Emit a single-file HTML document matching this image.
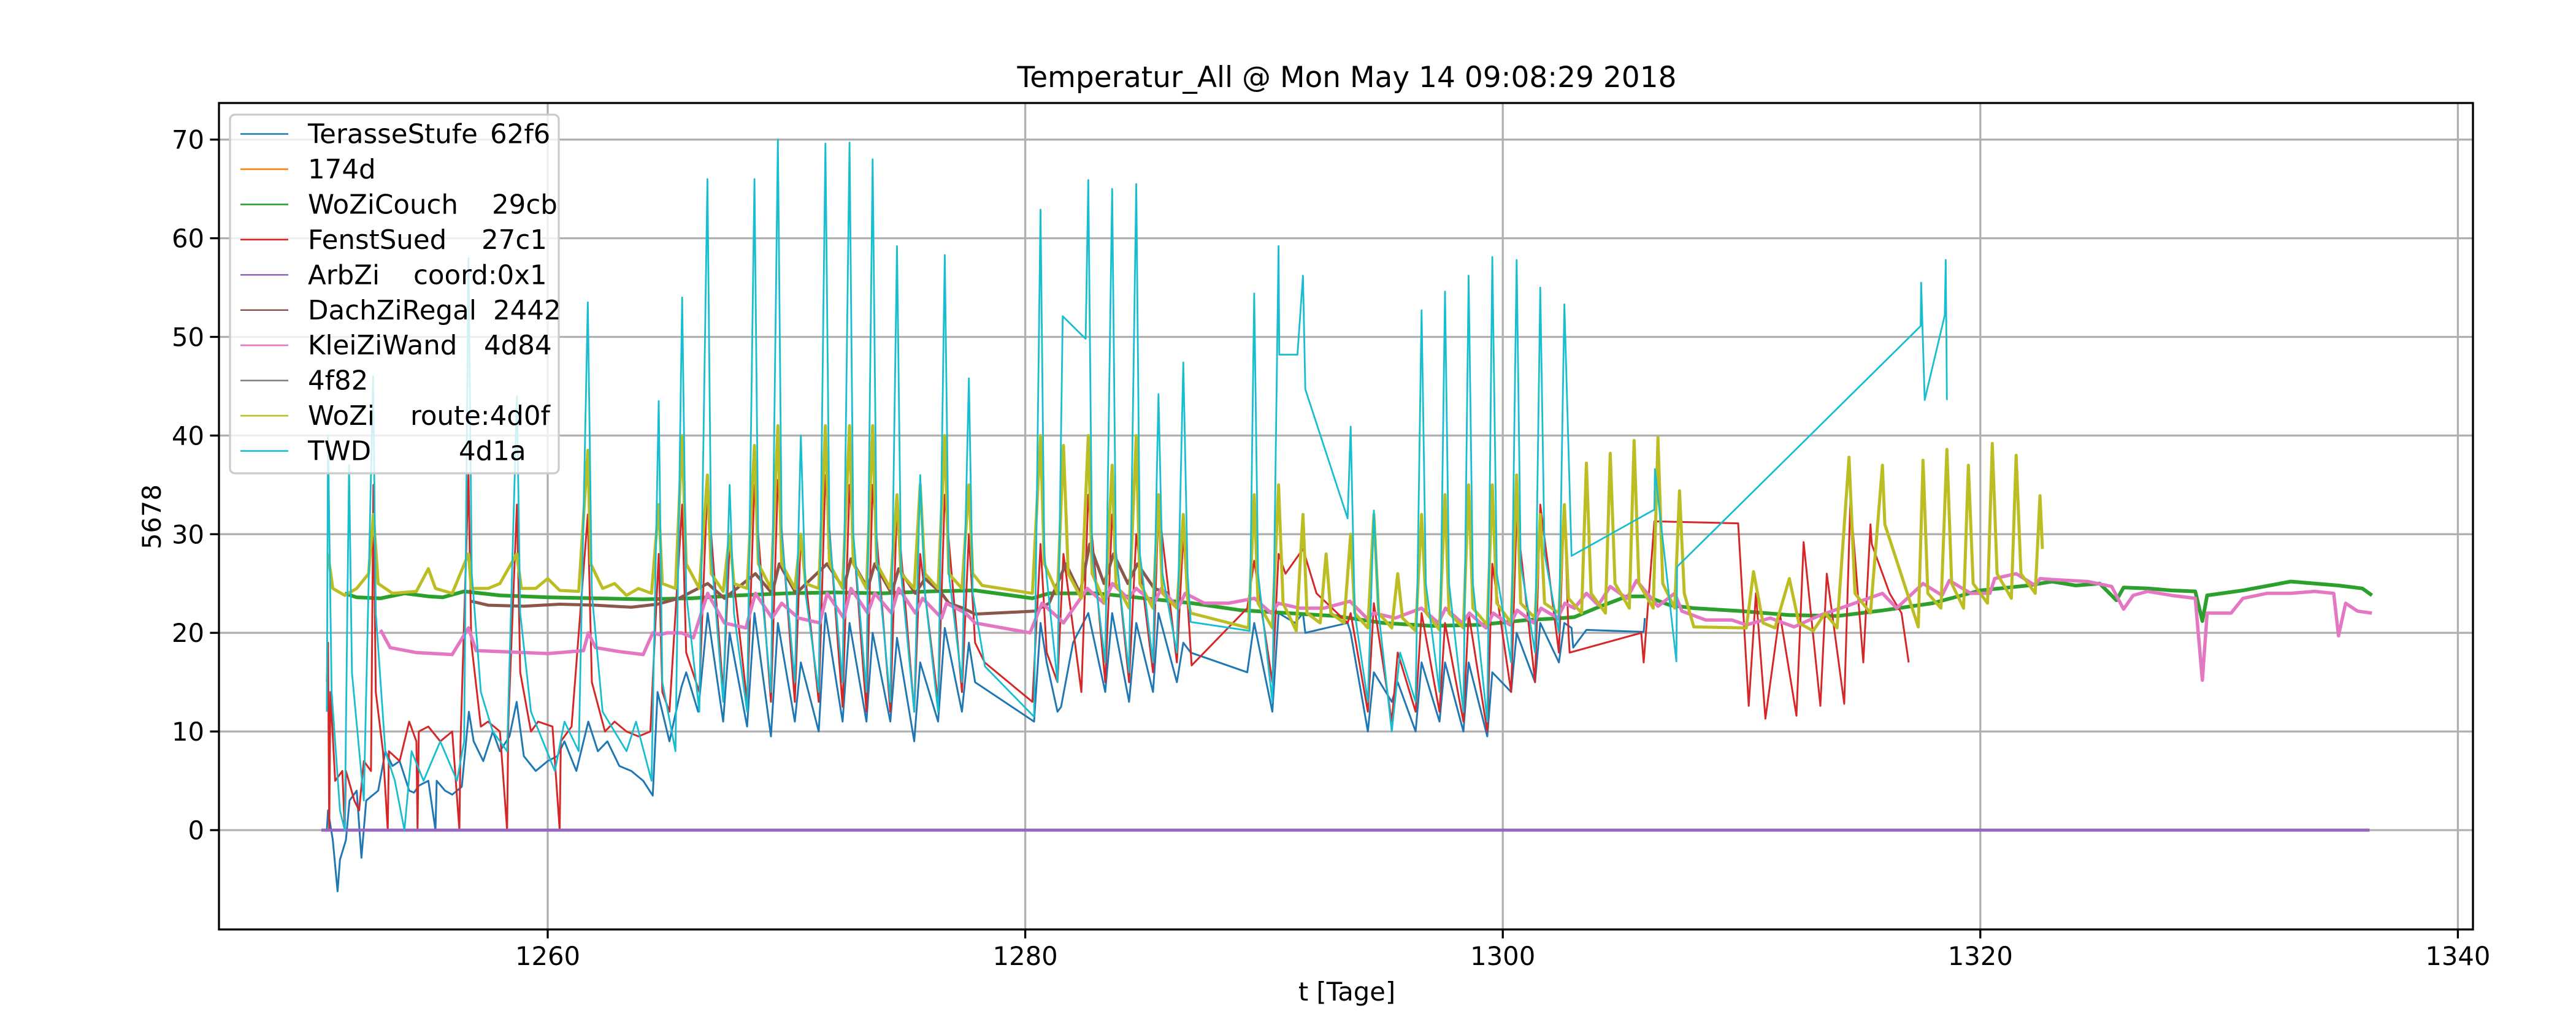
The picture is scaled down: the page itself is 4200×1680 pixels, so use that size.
<!DOCTYPE html>
<html><head><meta charset="utf-8"><style>
html,body{margin:0;padding:0;background:#fff;}
svg{display:block;font-family:"DejaVu Sans","Liberation Sans",sans-serif;}
</style></head><body>
<svg id="chart" width="4200" height="1680" viewBox="0 0 4200 1680">
<rect x="0" y="0" width="4200" height="1680" fill="#fff"/>
<g id="grid"></g>
<g id="series"></g>
<g id="axes"></g>
<text x="2196" y="142" font-size="47" text-anchor="middle">Temperatur_All @ Mon May 14 09:08:29 2018</text>
<text x="2196" y="1632" font-size="41.7" text-anchor="middle">t [Tage]</text>
<text transform="translate(262,843) rotate(-90)" font-size="41.7" text-anchor="middle">5678</text>
<g id="legend"></g>
</svg>
<script>
const xTicks=[1260,1280,1300,1320,1340];
const yTicks=[0,10,20,30,40,50,60,70];
const seriesNames=["TerasseStufe","174d","WoZiCouch","FenstSued","ArbZi","DachZiRegal","KleiZiWand","4f82","WoZi","TWD"];
const seriesIds=["62f6","","29cb","27c1","coord:0x1","2442","4d84","","route:4d0f","4d1a"];
const seriesColors=["#1f77b4","#ff7f0e","#2ca02c","#d62728","#9467bd","#8c564b","#e377c2","#7f7f7f","#bcbd22","#17becf"];
const terasse=[[1250.75,0],[1250.8,2],[1251.0,-1],[1251.2,-6.2],[1251.3,-3],[1251.55,-1],[1251.7,3],[1252,4],[1252.2,-2.8],[1252.4,3],[1252.9,4],[1253.2,8],[1253.5,6.5],[1253.8,7],[1254.2,4],[1254.4,3.8],[1254.6,4.5],[1255,5],[1255.3,0],[1255.35,5],[1255.7,4],[1256,3.6],[1256.4,4.4],[1256.7,12],[1256.9,9],[1257.3,7],[1257.7,10],[1258,8],[1258.4,9.5],[1258.7,13],[1259,7.5],[1259.5,6],[1260,7],[1260.4,7.5],[1260.7,9],[1261.2,6],[1261.7,11],[1262.1,8],[1262.5,9],[1263,6.5],[1263.5,6],[1264,5],[1264.4,3.5],[1264.6,14],[1264.8,12],[1265.1,9],[1265.6,14.5],[1265.8,16],[1266.3,12],[1266.7,22],[1267.35,11],[1267.62,20],[1268.35,10.5],[1268.66,22],[1269.35,9.5],[1269.64,21],[1270.35,11],[1270.6,17],[1271.35,10],[1271.63,22],[1272.35,11],[1272.64,21],[1273.35,11],[1273.61,20],[1274.35,11],[1274.63,19.5],[1275.35,9],[1275.6,17],[1276.35,11],[1276.63,20.5],[1277.35,12],[1277.64,19],[1277.9,15],[1280.37,11],[1280.64,21],[1280.9,17],[1281.35,12],[1281.5,12.5],[1282.0,19],[1282.64,22],[1283.35,14],[1283.64,22],[1284.35,13],[1284.65,21],[1285.35,14],[1285.58,22],[1286.35,15],[1286.62,19],[1286.93,18],[1289.3,16],[1289.59,21],[1290.35,12],[1290.61,22],[1291.3,21],[1291.63,22],[1291.73,20],[1293.5,21],[1293.63,20],[1294.35,10],[1294.6,16],[1295.35,13],[1295.6,15],[1296.35,10],[1296.6,17],[1297.35,11],[1297.58,17],[1298.35,10],[1298.57,17],[1299.35,9.5],[1299.56,16],[1300.35,14],[1300.58,20],[1301.35,15],[1301.57,21],[1302.35,17],[1302.58,21],[1302.88,20.5],[1302.95,18.5],[1303.5,20.3],[1305.9,20.1],[1305.95,21.5]];
const orange174d=[];
const wozicouch=[[1251.5,24],[1252,23.6],[1253,23.5],[1254,24],[1255,23.7],[1255.6,23.6],[1256.5,24.2],[1258,23.8],[1260,23.6],[1262,23.5],[1264,23.4],[1266,23.5],[1268,23.8],[1270,24],[1272,24.1],[1274,24],[1276,24.2],[1277.9,24.3],[1280.3,23.5],[1281,24],[1283,24],[1285,23.5],[1287,23],[1289,22.3],[1291,22],[1293,21.7],[1295,21],[1297,20.7],[1299,20.8],[1301,21.3],[1302.5,21.5],[1303,21.6],[1304,22.6],[1305.2,23.7],[1306,23.7],[1307,22.8],[1308,22.5],[1310,22.2],[1312,21.8],[1314,21.7],[1316,22.3],[1318,23.0],[1320,24.3],[1322,24.8],[1323,25.2],[1324,24.8],[1325,25],[1325.7,23.3],[1326,24.6],[1327,24.5],[1328,24.3],[1329,24.2],[1329.3,21.2],[1329.5,23.8],[1331,24.3],[1333,25.2],[1334,25],[1335,24.8],[1336,24.5],[1336.4,23.8]];
const fenstsued=[[1250.75,15],[1250.8,19],[1250.85,0],[1250.9,14],[1251.1,5],[1251.4,6],[1251.5,0],[1251.55,6],[1251.9,3],[1252.1,2],[1252.3,7],[1252.6,6],[1252.7,35],[1252.8,14],[1253.1,8],[1253.3,0],[1253.35,8],[1253.8,7],[1254.2,11],[1254.5,9],[1254.55,0],[1254.6,10],[1255,10.5],[1255.5,9],[1256,10],[1256.3,0],[1256.35,9],[1256.68,36],[1256.8,19],[1257.2,10.5],[1257.5,11],[1258,10],[1258.3,0],[1258.35,11],[1258.71,33],[1258.85,16],[1259.3,10],[1259.6,11],[1260.2,10.5],[1260.5,0],[1260.55,9],[1261,10.5],[1261.68,32],[1261.85,15],[1262.4,10],[1262.8,11],[1263.3,10],[1263.8,9.5],[1264.3,10],[1264.65,28],[1264.8,14],[1265.1,12],[1265.63,33],[1265.8,18],[1266.35,14],[1266.69,35],[1267.35,14],[1267.62,29],[1268.35,13],[1268.66,35],[1269.35,13],[1269.64,35.5],[1270.35,13],[1270.6,30],[1271.35,13],[1271.63,36],[1272.35,12.5],[1272.64,35],[1273.35,12],[1273.61,35],[1274.35,12],[1274.63,33],[1275.35,12],[1275.6,28],[1276.35,13],[1276.63,34],[1277.35,14],[1277.64,30],[1277.9,19],[1278.3,17],[1280.3,13],[1280.64,29],[1280.9,18],[1281.35,15],[1281.6,28],[1282.35,14],[1282.64,34],[1283.35,15],[1283.64,32],[1284.35,15],[1284.65,30],[1285.35,16],[1285.58,33],[1286.35,17],[1286.62,30],[1286.97,16.7],[1289.3,22.5],[1289.59,27.3],[1290.35,15],[1290.61,28],[1290.9,26],[1291.63,28.5],[1292.2,24],[1293.5,21],[1293.63,22],[1294.35,12],[1294.6,23],[1295.35,11],[1295.6,18],[1296.35,12],[1296.6,22],[1297.35,12],[1297.58,21],[1298.35,11],[1298.57,22],[1299.35,10],[1299.56,27],[1300.35,14],[1300.58,32],[1301.35,15],[1301.57,33],[1302.35,18],[1302.58,33],[1302.75,20],[1302.8,18],[1305.8,20],[1305.9,17],[1306.35,31.3],[1309.86,31.1],[1310.3,12.6],[1310.6,24],[1311.0,11.3],[1311.6,22],[1312.3,11.6],[1312.6,29.2],[1313.3,12.6],[1313.57,26],[1314.3,12.8],[1314.56,33.5],[1315.1,17],[1315.4,31],[1315.45,29],[1316.2,24],[1316.7,22],[1317.0,17]];
const arbzi=[[1250.52,0],[1336.3,0]];
const dachziregal=[[1256.8,23.2],[1257.5,22.8],[1259,22.7],[1260.5,22.9],[1262,22.8],[1263.5,22.6],[1264.6,22.9],[1265.5,23.5],[1266.7,25],[1267.4,23.5],[1268.7,26],[1269.4,24],[1269.7,27],[1270.4,24],[1271.7,27],[1272.4,24.5],[1272.7,27.5],[1273.4,24.5],[1273.7,27],[1274.4,24],[1274.7,26.5],[1275.4,24],[1275.8,25.5],[1276.5,24],[1276.8,23],[1277.4,22.5],[1277.9,21.9],[1280.4,22.2],[1281,23],[1281.7,27],[1282.3,24],[1282.7,29],[1283.3,25],[1283.7,28],[1284.3,25],[1284.7,27],[1285.4,24.5],[1286,24]];
const kleiziwand=[[1253.0,20.3],[1253.4,18.5],[1254.5,18],[1256,17.8],[1256.68,20.5],[1257,18.2],[1258,18.1],[1259,18],[1260,17.9],[1261.5,18.2],[1261.7,20],[1262,18.5],[1263,18.1],[1264,17.8],[1264.4,20],[1264.7,19.8],[1265,20],[1265.6,20],[1266.1,19.5],[1266.7,24],[1267.4,21],[1268.3,20.5],[1268.7,24],[1269.4,21.5],[1269.8,23],[1270.5,21.5],[1271.4,21],[1271.7,24],[1272.4,21.5],[1272.7,24.5],[1273.4,22],[1273.7,24],[1274.4,22],[1274.7,24.5],[1275.4,22],[1275.7,23.5],[1276.5,21.5],[1276.7,23],[1277.5,22],[1277.9,21],[1280.2,20],[1280.7,23],[1281.4,21.5],[1281.6,21],[1282.6,24.5],[1283.3,23],[1283.65,25],[1284.3,23.5],[1284.65,24.5],[1285.4,23],[1285.7,24.5],[1286.4,22.5],[1286.7,24],[1287.5,23],[1288.5,23],[1289.6,23.5],[1290.3,22],[1290.6,23],[1291.5,22.5],[1292.5,22.5],[1293.6,23.2],[1294.3,21.5],[1294.6,22],[1295.5,21.5],[1296.6,22.5],[1297.3,21],[1297.6,22.5],[1298.3,21],[1298.6,22],[1299.3,20.5],[1299.6,22],[1300.3,20.8],[1300.6,22.3],[1301.3,21],[1301.6,22.5],[1302.3,21.5],[1302.6,23],[1303.0,22.5],[1303.5,24],[1304,22.8],[1304.5,24.7],[1305.2,23.5],[1305.6,25.3],[1306.5,22.7],[1307.2,24],[1307.5,22.2],[1308.5,21.3],[1309.6,21.3],[1310.2,20.8],[1311.2,21.5],[1312.2,20.6],[1313.3,21.8],[1314.5,22.8],[1315.9,24],[1316.5,22.5],[1317.6,25],[1318.4,23.8],[1318.7,25.3],[1319.6,24],[1320.4,24],[1320.6,25.5],[1321.5,26],[1322.3,24.8],[1322.5,25.5],[1323,25.4],[1324.5,25.2],[1325.5,24.7],[1326,22.4],[1326.4,23.8],[1327,24.2],[1328,23.8],[1329.0,23.5],[1329.3,15.2],[1329.5,22],[1330.5,22],[1331,23.5],[1332,24],[1333,24],[1334,24.2],[1334.8,24],[1335,19.7],[1335.3,23],[1335.8,22.2],[1336.4,22]];
const gray4f82=[];
const wozi=[[1250.8,28],[1251,24.5],[1251.5,23.8],[1252,24.5],[1252.5,26],[1252.7,32],[1252.9,25],[1253.5,24],[1254.5,24.2],[1255,26.5],[1255.3,24.5],[1256,24],[1256.68,28],[1256.8,24.5],[1257.5,24.5],[1258,25],[1258.7,28],[1258.9,24.5],[1259.5,24.5],[1260,25.5],[1260.5,24.3],[1261.3,24.2],[1261.68,38.5],[1261.8,27],[1262.3,24.5],[1262.8,25],[1263.3,23.8],[1263.8,24.5],[1264.35,24],[1264.65,33],[1264.8,25],[1265.35,24.5],[1265.63,40],[1265.8,27],[1266.35,24.5],[1266.69,36],[1266.85,26],[1267.35,24.2],[1267.62,30],[1267.8,25],[1268.35,24.5],[1268.66,39],[1268.82,27],[1269.35,24.5],[1269.64,41],[1269.8,27],[1270.35,24.5],[1270.6,30],[1270.8,25],[1271.35,24.5],[1271.63,41],[1271.8,27],[1272.35,24.5],[1272.64,41],[1272.8,27],[1273.35,24.5],[1273.61,41],[1273.78,27],[1274.35,24.5],[1274.63,34],[1274.8,26],[1275.35,24.5],[1275.6,35],[1275.8,26],[1276.35,24.5],[1276.63,40],[1276.8,26],[1277.35,24.5],[1277.64,35],[1277.8,26],[1278.2,24.8],[1280.3,24],[1280.64,40],[1280.8,27],[1281.35,24],[1281.6,39],[1281.8,26],[1282.35,23.5],[1282.64,40],[1282.8,26],[1283.35,23],[1283.64,37],[1283.8,25],[1284.35,22.5],[1284.65,40],[1284.8,25],[1285.35,22.5],[1285.58,34],[1285.75,24],[1286.35,22.5],[1286.62,32],[1286.8,23.5],[1286.93,22],[1289.35,20.5],[1289.59,34],[1289.75,23],[1290.35,20.5],[1290.61,35],[1290.8,23],[1291.35,20.2],[1291.63,32],[1291.8,22],[1292.35,21],[1292.6,28],[1292.8,22],[1293.35,21],[1293.63,30],[1293.8,22],[1294.35,20.5],[1294.6,32],[1294.8,22],[1295.35,20.5],[1295.6,26],[1295.8,21.5],[1296.35,20.2],[1296.6,32],[1296.8,22],[1297.35,20.3],[1297.58,34],[1297.75,22],[1298.35,20.5],[1298.57,35],[1298.75,22.5],[1299.35,20.8],[1299.56,35],[1299.75,23],[1300.35,21],[1300.58,36],[1300.75,23],[1301.35,21.5],[1301.57,32],[1301.75,23],[1302.35,22],[1302.58,33],[1302.75,23.5],[1303.3,22],[1303.5,37.2],[1303.7,24],[1304.3,22],[1304.5,38.2],[1304.7,25],[1305.3,22.5],[1305.5,39.5],[1305.7,25],[1306.3,22.5],[1306.5,39.8],[1306.7,25],[1307.2,22.5],[1307.4,34.4],[1307.6,24],[1308,20.6],[1310.2,20.5],[1310.5,26.2],[1310.9,21],[1311.4,20.5],[1312,25.5],[1312.4,21],[1313,20.2],[1313.5,22],[1314,20.5],[1314.5,37.8],[1314.75,24],[1315.4,22],[1315.9,37],[1316.0,31],[1317.4,20.6],[1317.6,37.5],[1317.8,24],[1318.35,22.5],[1318.6,38.6],[1318.8,25],[1319.3,22.5],[1319.5,37],[1319.7,25],[1320.3,23],[1320.5,39.2],[1320.7,26],[1321.3,23.5],[1321.5,38],[1321.7,26],[1322.3,24],[1322.5,33.9],[1322.6,28.5]];
const twd=[[1250.75,12],[1250.8,40],[1250.95,14],[1251.3,2],[1251.5,0],[1251.68,37],[1251.8,16],[1252.3,3],[1252.69,46],[1252.8,22],[1253.2,8],[1253.6,5],[1254.0,0],[1254.3,8],[1254.8,5],[1255.5,9],[1256.2,5],[1256.5,9],[1256.68,58],[1256.82,26],[1257.2,14],[1257.7,10],[1258.3,8],[1258.71,44],[1258.85,22],[1259.3,12],[1259.8,9],[1260.3,6],[1260.7,11],[1261.3,8],[1261.68,53.5],[1261.85,24],[1262.3,12],[1262.8,10],[1263.3,8],[1263.7,11],[1264.35,5],[1264.65,43.5],[1264.8,15],[1265.35,8],[1265.63,54],[1265.8,24],[1266.35,12],[1266.69,66],[1266.85,28],[1267.35,13],[1267.62,35],[1267.8,22],[1268.35,12],[1268.66,66],[1268.82,28],[1269.35,14],[1269.64,70],[1269.8,30],[1270.35,15],[1270.6,40],[1270.8,24],[1271.35,14],[1271.63,69.6],[1271.8,30],[1272.35,15],[1272.64,69.7],[1272.8,30],[1273.35,14],[1273.61,68],[1273.78,28],[1274.35,13],[1274.63,59.2],[1274.8,26],[1275.35,12],[1275.6,36],[1275.8,24],[1276.35,12],[1276.63,58.3],[1276.8,26],[1277.35,15],[1277.64,45.8],[1277.8,24],[1278.31,16.6],[1280.37,11.5],[1280.64,62.9],[1280.8,28],[1281.35,15],[1281.57,52.1],[1282.53,49.8],[1282.64,65.9],[1282.8,28],[1283.35,17],[1283.64,65],[1283.8,28],[1284.35,16],[1284.65,65.5],[1284.8,28],[1285.35,17],[1285.58,44.2],[1285.75,26],[1286.35,18],[1286.62,47.4],[1286.8,26],[1286.93,21.1],[1289.4,20.2],[1289.59,54.4],[1289.75,26],[1290.35,13],[1290.61,59.2],[1290.64,48.2],[1291.4,48.2],[1291.63,56.2],[1291.73,44.7],[1293.5,31.6],[1293.63,40.9],[1293.8,22],[1294.35,13],[1294.6,32.4],[1294.8,22],[1295.35,10],[1295.7,18],[1296.35,13],[1296.6,52.7],[1296.78,25],[1297.35,14],[1297.58,54.6],[1297.75,25],[1298.35,12],[1298.57,56.2],[1298.75,25],[1299.35,11],[1299.56,58.1],[1299.75,26],[1300.35,17],[1300.58,57.8],[1300.75,27],[1301.35,18],[1301.57,55],[1301.75,28],[1302.35,20],[1302.58,53.3],[1302.88,27.8],[1306.35,32.5],[1306.37,36.6],[1307.27,17.1],[1307.3,26.7],[1317.5,51.1],[1317.52,55.5],[1317.67,43.6],[1318.51,52.2],[1318.55,57.8],[1318.6,43.6]];
const seriesData=[terasse,orange174d,wozicouch,fenstsued,arbzi,dachziregal,kleiziwand,gray4f82,wozi,twd];
const seriesWidths=[3,2.6,6,3,5,5,5.5,2.6,5,2.8];

const L=357,R=4032,T=168,B=1516;
const xScale=t=>893+(t-1260)*38.93;
const yScale=v=>1354-v*16.09;
const NS="http://www.w3.org/2000/svg";
function mk(tag,attrs,parent){const e=document.createElementNS(NS,tag);for(const k in attrs)e.setAttribute(k,attrs[k]);parent.appendChild(e);return e;}
const grid=document.getElementById('grid'),axes=document.getElementById('axes'),sg=document.getElementById('series'),lg=document.getElementById('legend');

xTicks.forEach(t=>{const x=xScale(t);
 const g=mk('line',{x1:x,x2:x,y1:T,y2:B,stroke:'#b0b0b0','stroke-width':3.3},grid);
 
 
 const tk=mk('line',{x1:x,x2:x,y1:B,y2:B+14.6,stroke:'#000','stroke-width':3.3},axes);
 
 
 const lb=mk('text',{x:x,y:B+58,'font-size':41.7,'text-anchor':'middle'},axes);lb.textContent=t;
 
 
});
yTicks.forEach(v=>{const y=yScale(v);
 const g=mk('line',{x1:L,x2:R,y1:y,y2:y,stroke:'#b0b0b0','stroke-width':3.3},grid);
 
 
 const tk=mk('line',{x1:L-14.6,x2:L,y1:y,y2:y,stroke:'#000','stroke-width':3.3},axes);
 
 
 const lb=mk('text',{x:L-24,y:y+15,'font-size':41.7,'text-anchor':'end'},axes);lb.textContent=v;
 
 
});
const frame=mk('rect',{x:L,y:T,width:R-L,height:B-T,fill:'none',stroke:'#000','stroke-width':3.3},axes);



seriesData.forEach((pts,i)=>{
 if(!pts.length)return;
 const d=pts.map((p,j)=>(j?'L':'M')+xScale(p[0]).toFixed(1)+' '+yScale(p[1]).toFixed(1)).join(' ');
 const p=mk('path',{d:d,fill:'none',stroke:seriesColors[i],'stroke-width':seriesWidths[i],'stroke-linejoin':'round'},sg);
 
 
});

const lbox=mk('rect',{x:375,y:187,width:536,height:585,rx:8,fill:'#fff','fill-opacity':0.8,stroke:'#cccccc','stroke-width':3.3},lg);


const idX=[793,0,796,779,668,798,783,0,663,742];
seriesNames.forEach((n,i)=>{const y=218.5+i*57.45;
 const ln=mk('line',{x1:392,x2:470,y1:y,y2:y,stroke:seriesColors[i],'stroke-width':2.6},lg);
 
 
 const t=mk('text',{x:502,y:y+15,'font-size':43.5},lg);t.textContent=n;
 
 
 if(seriesIds[i]){const t2=mk('text',{x:idX[i]+6,y:y+15,'font-size':43.5},lg);t2.textContent=seriesIds[i];
 
 }
});
</script>
</body></html>
